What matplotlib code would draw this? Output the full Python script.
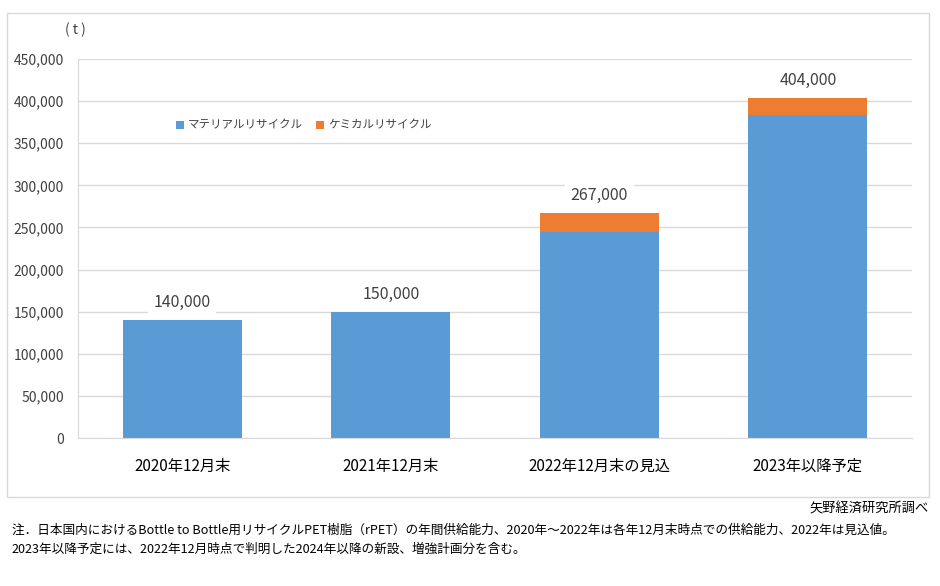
import matplotlib.pyplot as plt
from matplotlib.patches import Rectangle
from matplotlib.ticker import FuncFormatter

plt.rcParams['font.family'] = ['Noto Sans CJK JP', 'DejaVu Sans']

categories = ["2020年12月末", "2021年12月末", "2022年12月末の見込", "2023年以降予定"]
material = [140000, 150000, 245000, 383000]
chemical = [0, 0, 22000, 21000]
totals = [140000, 150000, 267000, 404000]
total_labels = ["140,000", "150,000", "267,000", "404,000"]

BLUE = "#5b9bd5"
ORANGE = "#ed7d31"
GRID = "#d9d9d9"
TEXT = "#404040"

fig = plt.figure(figsize=(9.4, 5.86), dpi=100)
fig.patches.append(Rectangle((7 / 940, 1 - 497 / 586), 922 / 940, 484 / 586,
                             transform=fig.transFigure, fill=False,
                             edgecolor=GRID, lw=1.0))

ax = fig.add_axes([78 / 940, 1 - 438 / 586, 834 / 940, 379 / 586])
x = range(len(categories))
ax.bar(x, material, width=0.57, color=BLUE, label="マテリアルリサイクル", zorder=2)
ax.bar(x, chemical, width=0.57, bottom=material, color=ORANGE,
       label="ケミカルリサイクル", zorder=2)

for i, (t, lab) in enumerate(zip(totals, total_labels)):
    ax.text(i, t + 21000, lab, ha="center", va="center", fontsize=11.5,
            color=TEXT, zorder=3,
            bbox=dict(facecolor="white", edgecolor="none", pad=4))

ax.set_xlim(-0.5, 3.5)
ax.set_ylim(0, 450000)
ax.set_yticks(range(0, 450001, 50000))
ax.yaxis.set_major_formatter(FuncFormatter(lambda v, p: f"{int(v):,}"))
ax.grid(axis="y", color=GRID, lw=1.0, zorder=0)
ax.set_xticks(list(x))
ax.set_xticklabels(categories, fontsize=11, color="black")
ax.tick_params(axis="y", length=0, labelsize=10, labelcolor=TEXT, pad=10)
ax.tick_params(axis="x", length=0, pad=14)
for s in ["top", "right"]:
    ax.spines[s].set_visible(False)
ax.spines["left"].set_color(GRID)
ax.spines["bottom"].set_color(GRID)

ax.legend(loc="upper left", bbox_to_anchor=(0.105, 0.87), ncol=2, frameon=False,
          fontsize=8.3, handlelength=0.7, handleheight=0.7, handletextpad=0.3,
          columnspacing=1.2, labelcolor=TEXT)

fig.text(75 / 940, 1 - 30 / 586, "( t )", fontsize=10, color=TEXT, ha="center", va="center")
fig.text(929 / 940, 1 - 509 / 586, "矢野経済研究所調べ", fontsize=9.5, ha="right", va="center")
fig.text(12 / 940, 1 - 530 / 586,
         "注．日本国内におけるBottle to Bottle用リサイクルPET樹脂（rPET）の年間供給能力、2020年～2022年は各年12月末時点での供給能力、2022年は見込値。",
         fontsize=9.1, ha="left", va="center")
fig.text(12 / 940, 1 - 549 / 586,
         "2023年以降予定には、2022年12月時点で判明した2024年以降の新設、増強計画分を含む。",
         fontsize=9.1, ha="left", va="center")

fig.savefig("out.png", dpi=100)
